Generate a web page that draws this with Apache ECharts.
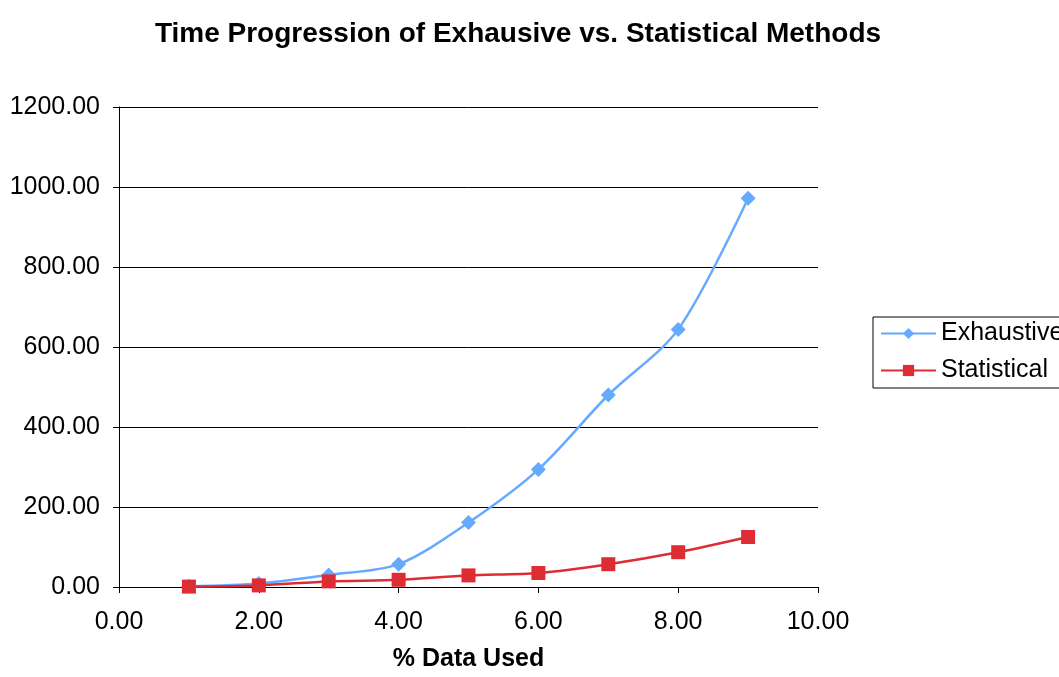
<!DOCTYPE html>
<html>
<head>
<meta charset="utf-8">
<script src="https://cdn.jsdelivr.net/npm/echarts@6/dist/echarts.min.js"></script>
<style>
    html, body { margin: 0; padding: 0; background: #fff; }
    #chart { width: 1059px; height: 677px; }
</style>
</head>
<body>
<div id="chart"></div>
<script>
    // % data used
    const dataUsed = [1, 2, 3, 4, 5, 6, 7, 8, 9];
    const exhaustive = [2, 9, 30, 57, 161, 294, 480, 644, 972];
    const statistical = [1, 4, 14, 18, 29, 35, 57, 87, 125];

    const chart = echarts.init(document.getElementById('chart'));
    const font = 'Liberation Sans, Arial, sans-serif';

    chart.setOption({
        animation: false,
        textStyle: { fontFamily: font },
        title: {
            text: 'Time Progression of Exhausive vs. Statistical Methods',
            left: 513,
            textAlign: 'center',
            top: 15,
            textStyle: { fontSize: 28, fontWeight: 'bold', color: '#000', fontFamily: font }
        },
        grid: { left: 119, right: 241, top: 107, bottom: 85 },
        legend: {
            orient: 'vertical',
            left: 873,
            top: 317,
            padding: [4, 14, 5, 7],
            borderColor: '#000',
            borderWidth: 1,
            itemWidth: 55,
            itemHeight: 14,
            itemGap: 12,
            textStyle: { fontSize: 25, color: '#000', fontFamily: font },
            data: ['Exhaustive', 'Statistical']
        },
        xAxis: {
            type: 'value',
            min: 0,
            max: 10,
            interval: 2,
            name: '% Data Used',
            nameLocation: 'middle',
            nameGap: 60,
            nameTextStyle: { fontSize: 25, fontWeight: 'bold', color: '#000', fontFamily: font },
            axisLine: { show: true, lineStyle: { color: '#000', width: 1 } },
            axisTick: { show: true, length: 6, lineStyle: { color: '#000' } },
            axisLabel: {
                fontSize: 25, color: '#000', margin: 23,
                formatter: v => v.toFixed(2)
            },
            splitLine: { show: false }
        },
        yAxis: {
            type: 'value',
            min: 0,
            max: 1200,
            interval: 200,
            axisLine: { show: true, lineStyle: { color: '#000', width: 1 } },
            axisTick: { show: true, length: 6, lineStyle: { color: '#000' } },
            axisLabel: {
                fontSize: 25, color: '#000', margin: 19,
                formatter: v => v.toFixed(2)
            },
            splitLine: { show: true, lineStyle: { color: '#000', width: 1 } }
        },
        series: [
            {
                name: 'Exhaustive',
                type: 'line',
                smooth: 0.3,
                data: dataUsed.map((x, i) => [x, exhaustive[i]]),
                symbol: 'diamond',
                symbolSize: 15,
                lineStyle: { color: '#66aaff', width: 2.5 },
                itemStyle: { color: '#66aaff' }
            },
            {
                name: 'Statistical',
                type: 'line',
                smooth: 0.3,
                data: dataUsed.map((x, i) => [x, statistical[i]]),
                symbol: 'rect',
                symbolSize: 14,
                lineStyle: { color: '#dd2c33', width: 2.5 },
                itemStyle: { color: '#dd2c33' }
            }
        ]
    });
</script>
</body>
</html>
